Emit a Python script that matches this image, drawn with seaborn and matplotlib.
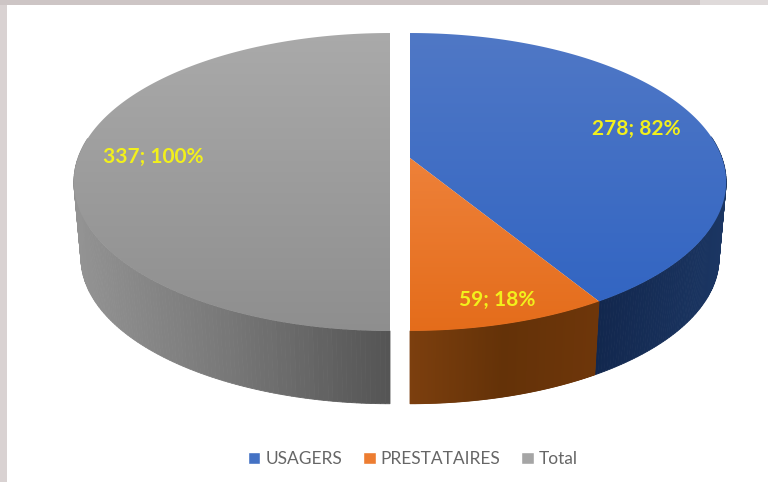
import numpy as np
import matplotlib
matplotlib.use('Agg')
import matplotlib.pyplot as plt
import seaborn as sns
from matplotlib.colors import LinearSegmentedColormap
from matplotlib.patches import Patch, Polygon

# valeurs du graphique
categories = ['USAGERS', 'PRESTATAIRES', 'Total']
values = [278, 59, 337]
labels = ['278; 82%', '59; 18%', '337; 100%']
colors = ['#4472c4', '#ed7d31', '#a5a5a5']

# degrades : dessus (haut -> bas), paroi (gauche -> droite)
top_shades = [['#5078c6', '#2f63c2'], ['#f59050', '#e46c1a'], ['#aaaaaa', '#8e8e8e']]
wall_shades = [['#12274d', '#1b3663'], ['#7c3f0e', '#643208', '#6e360a'], ['#939393', '#777777', '#555555']]
label_pos = [(636, 129), (497, 300), (153, 157)]
center_x = [410, 410, 390]

# geometrie : disque vu en perspective
K = 0.161
RX, RY, APEX_Y = 312, 145.1, 158
RX_LOW, RY_LOW, APEX_Y_LOW = 305, 142, 234.5


def rim(theta, cx, rx, ry, y0):
    """point du bord, theta en sens horaire depuis midi"""
    u, v = np.sin(theta), -np.cos(theta)
    d = 1 - K * v
    return cx + rx * u / d, y0 + ry * v / d


sns.set_theme(style='white')
plt.rcParams['font.family'] = ['Lato', 'DejaVu Sans']

fig = plt.figure(figsize=(7.68, 4.82), dpi=100)
ax = fig.add_axes([0, 0, 1, 1])
ax.set_xlim(0, 768)
ax.set_ylim(482, 0)
ax.axis('off')

# bords de la capture
ax.axvspan(0, 7, color='#d9d2d2', lw=0, zorder=0)
ax.axhspan(0, 4.5, color='#cdc5c5', lw=0, zorder=0)
ax.axhspan(0, 4.5, xmin=700 / 768, color='#dfdada', lw=0, zorder=0.5)

edges = np.cumsum([0] + values) / sum(values) * 2 * np.pi

for i, name in enumerate(categories):
    t0, t1 = edges[i], edges[i + 1]
    cx = center_x[i]
    thetas = np.linspace(t0, t1, 240)

    # paroi : seulement la partie avant
    front = thetas[-np.cos(thetas) > -0.15]
    wall_cmap = LinearSegmentedColormap.from_list(name + '_wall', wall_shades[i])
    xs_top, ys_top = rim(front, cx, RX, RY, APEX_Y)
    xs_low, ys_low = rim(front, cx, RX_LOW, RY_LOW, APEX_Y_LOW)
    xmin, xmax = xs_top.min(), xs_top.max()
    for j in range(len(front) - 1):
        quad = [(xs_top[j], ys_top[j]), (xs_top[j + 1], ys_top[j + 1]),
                (xs_low[j + 1], ys_low[j + 1]), (xs_low[j], ys_low[j])]
        c = wall_cmap((xs_top[j] - xmin) / (xmax - xmin))
        ax.add_patch(Polygon(quad, closed=True, facecolor=c, edgecolor=c, lw=0.6, zorder=2))

    # dessus : degrade vertical coupe par la part
    xs, ys = rim(thetas, cx, RX, RY, APEX_Y)
    outline = np.column_stack([np.r_[cx, xs], np.r_[APEX_Y, ys]])
    poly = Polygon(outline, closed=True, facecolor='none', edgecolor='none', zorder=3)
    ax.add_patch(poly)
    top_cmap = LinearSegmentedColormap.from_list(name + '_top', top_shades[i])
    img = ax.imshow(np.linspace(0, 1, 256).reshape(-1, 1), cmap=top_cmap, aspect='auto',
                    extent=[60, 740, 335, 30], zorder=3, interpolation='bilinear')
    img.set_clip_path(poly)

ax.set_xlim(0, 768)
ax.set_ylim(482, 0)

for (x, y), txt in zip(label_pos, labels):
    ax.text(x, y, txt, color='#f2f01c', fontsize=15, fontweight='bold',
            ha='center', va='center', zorder=5)

handles = [Patch(facecolor=c, label=n) for c, n in zip(colors, categories)]
ax.legend(handles=handles, loc='center', bbox_to_anchor=(413, 459),
          bbox_transform=ax.transData, ncol=3, frameon=False, fontsize=12.5,
          labelcolor='#666666', handlelength=0.72, handleheight=0.72,
          handletextpad=0.3, columnspacing=1.2)

fig.savefig('out.png', dpi=100)
